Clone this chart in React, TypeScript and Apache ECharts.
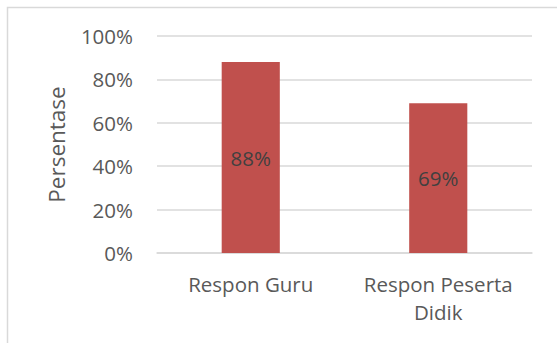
import React, { useEffect, useRef } from "react";
import * as echarts from "echarts";

const categories = ["Respon Guru", "Respon Peserta\nDidik"];
const values = [88, 69];
const yTicks = [0, 20, 40, 60, 80, 100];

export default function App() {
  const ref = useRef<HTMLDivElement>(null);
  useEffect(() => {
    const chart = echarts.init(ref.current!, null, { renderer: "svg" });
    const font = "'Open Sans', sans-serif";
    chart.setOption({
      animation: false,
      backgroundColor: "#ffffff",
      textStyle: { fontFamily: font },
      graphic: [
        {
          type: "rect",
          shape: { x: 7.5, y: 7.5, width: 600, height: 400 },
          style: { fill: "none", stroke: "#D9D9D9", lineWidth: 1.5 },
          silent: true,
        },
      ],
      grid: { left: 157, right: 25, top: 36, bottom: 90, containLabel: false },
      xAxis: {
        type: "category",
        data: categories,
        axisLine: { show: true, lineStyle: { color: "#D9D9D9", width: 1.5 } },
        axisTick: { show: false },
        axisLabel: {
          color: "#595959",
          fontSize: 20.5,
          fontFamily: font,
          lineHeight: 28,
          margin: 17,
          interval: 0,
        },
      },
      yAxis: {
        type: "value",
        min: yTicks[0],
        max: yTicks[yTicks.length - 1],
        interval: 20,
        name: "Persentase",
        nameLocation: "middle",
        nameGap: 89,
        nameRotate: 90,
        nameTextStyle: { color: "#595959", fontSize: 22.5, fontFamily: font },
        axisLine: { show: false },
        axisTick: { show: false },
        splitLine: { lineStyle: { color: "#D9D9D9", width: 1.5 } },
        axisLabel: {
          color: "#595959",
          fontSize: 20.5,
          fontFamily: font,
          margin: 24,
          formatter: "{value}%",
        },
      },
      series: [
        {
          type: "bar",
          data: values,
          barWidth: "31%",
          itemStyle: { color: "#C0504D" },
          label: {
            show: true,
            position: "inside",
            formatter: "{c}%",
            color: "#404040",
            fontSize: 20.5,
            fontFamily: font,
          },
        },
      ],
    });
    return () => chart.dispose();
  }, []);
  return (
    <div
      ref={ref}
      style={{ position: "fixed", left: 0, top: 0, width: 557, height: 343 }}
    />
  );
}
